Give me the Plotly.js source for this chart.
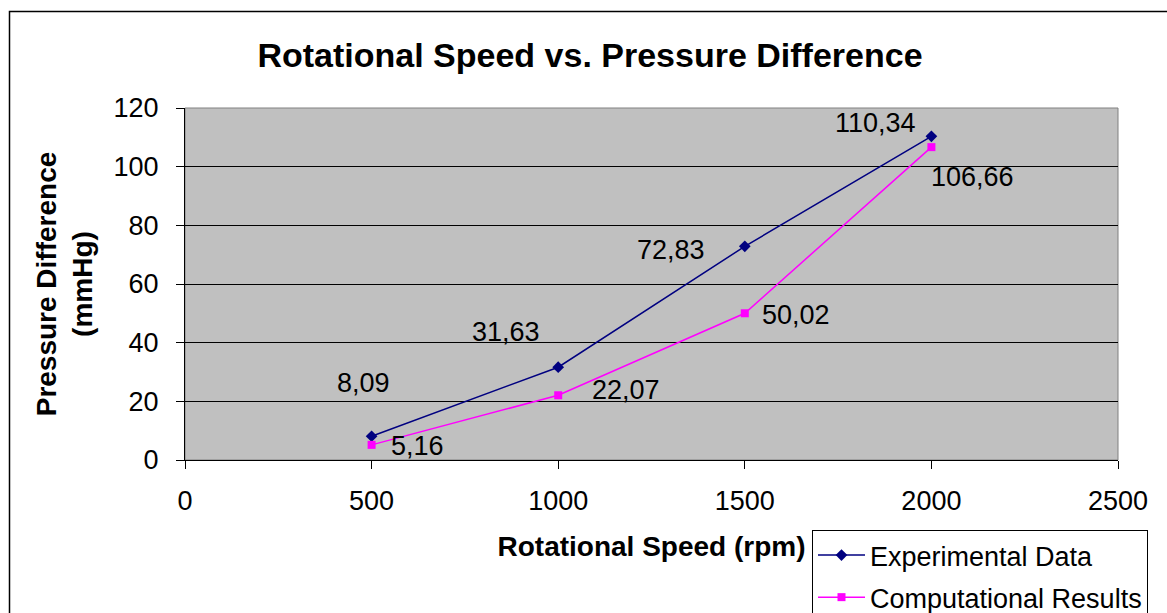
<!DOCTYPE html>
<html>
<head>
<meta charset="utf-8">
<script src="https://cdn.plot.ly/plotly-3.0.1.min.js"></script>
<style>html,body{margin:0;padding:0;background:#fff;}#chart{width:1167px;height:613px;}</style>
</head>
<body>
<div id="chart"></div>
<script>
const speeds = [500, 1000, 1500, 2000];
const experimental = [8.09, 31.63, 72.83, 110.34];
const computational = [5.16, 22.07, 50.02, 106.66];
const seriesNames = ['Experimental Data', 'Computational Results'];
const xTicks = [0, 500, 1000, 1500, 2000, 2500];
const yTicks = [0, 20, 40, 60, 80, 100, 120];

// label pixel offsets (placement only)
const expOffsets = [[-8, -53], [-52, -35], [-74, 4], [-56, -13]];
const compOffsets = [[46, 1], [68, -5], [51, 2], [41, 30]];

const FONT = 'Arial, "Liberation Sans", sans-serif';
const fmt = v => v.toFixed(2).replace('.', ',');
const FS = 27;

const traces = [
  {
    x: speeds, y: experimental, name: seriesNames[0], type: 'scatter', mode: 'lines+markers',
    line: {color: '#000080', width: 1.5},
    marker: {symbol: 'diamond', size: 9, color: '#000080'},
    legendgroup: 'a'
  },
  {
    x: speeds, y: computational, name: seriesNames[1], type: 'scatter', mode: 'lines+markers',
    line: {color: '#FF00FF', width: 1.5},
    marker: {symbol: 'square', size: 8, color: '#FF00FF'},
    legendgroup: 'b'
  }
];

const annotations = [];
speeds.forEach((s, i) => {
  annotations.push({x: s, y: experimental[i], xref: 'x', yref: 'y', text: fmt(experimental[i]),
    showarrow: false, xshift: expOffsets[i][0], yshift: -expOffsets[i][1],
    font: {family: FONT, size: FS, color: '#000'}});
  annotations.push({x: s, y: computational[i], xref: 'x', yref: 'y', text: fmt(computational[i]),
    showarrow: false, xshift: compOffsets[i][0], yshift: -compOffsets[i][1],
    font: {family: FONT, size: FS, color: '#000'}});
});

// plot area pixels: x 185..1118, y 108..460
const L = 185, R = 49, T = 108, B = 153, W = 933, H = 352;
const px = p => (p - L) / W;
const py = p => (T + H - p) / H;

const layout = {
  width: 1167, height: 613,
  margin: {l: L, r: R, t: T, b: B, pad: 0, autoexpand: false},
  paper_bgcolor: '#ffffff',
  plot_bgcolor: '#C0C0C0',
  font: {family: FONT, size: FS, color: '#000'},
  title: {text: '<b>Rotational Speed vs. Pressure Difference</b>', font: {family: FONT, size: 34, color: '#000'},
    x: 590 / 1167, xanchor: 'center', y: 1 - 55 / 613, yanchor: 'middle'},
  xaxis: {
    range: [0, 2500], tickvals: xTicks, ticktext: xTicks.map(String),
    showgrid: false, zeroline: false, showline: true, linecolor: '#000', linewidth: 1,
    ticks: 'outside', ticklen: 8, tickcolor: '#000', tickwidth: 1,
    tickfont: {family: FONT, size: FS, color: '#000'}, ticklabelstandoff: 9,
    title: {text: '<b>Rotational Speed (rpm)</b>', font: {family: FONT, size: 28, color: '#000'}, standoff: 20},
    fixedrange: true
  },
  yaxis: {
    range: [0, 120], tickvals: yTicks, ticktext: yTicks.map(String),
    showgrid: true, gridcolor: '#000', gridwidth: 1, zeroline: false,
    showline: true, linecolor: '#000', linewidth: 1,
    ticks: 'outside', ticklen: 8, tickcolor: '#000', tickwidth: 1,
    tickfont: {family: FONT, size: FS, color: '#000'}, ticklabelstandoff: 12,
    title: {text: '<b>Pressure Difference<br>(mmHg)</b>', font: {family: FONT, size: 28, color: '#000'}, standoff: 12},
    fixedrange: true
  },
  showlegend: true,
  legend: {
    x: px(812), y: py(530), xanchor: 'left', yanchor: 'top',
    bgcolor: '#ffffff', bordercolor: '#000', borderwidth: 1,
    font: {family: FONT, size: FS, color: '#000'},
    traceorder: 'grouped', tracegroupgap: 4, itemwidth: 47
  },
  annotations: annotations,
  shapes: [
    {type: 'rect', xref: 'paper', yref: 'paper', x0: 0, x1: 1, y0: 0, y1: 1,
      line: {color: '#808080', width: 1}, fillcolor: 'rgba(0,0,0,0)', layer: 'between'},
    {type: 'rect', xref: 'paper', yref: 'paper', x0: px(9.5), x1: px(1180), y0: py(630), y1: py(11.5),
      line: {color: '#000', width: 1.5}, fillcolor: 'rgba(0,0,0,0)', layer: 'above'}
  ]
};

Plotly.newPlot('chart', traces, layout, {displayModeBar: false, staticPlot: true});
</script>
</body>
</html>
